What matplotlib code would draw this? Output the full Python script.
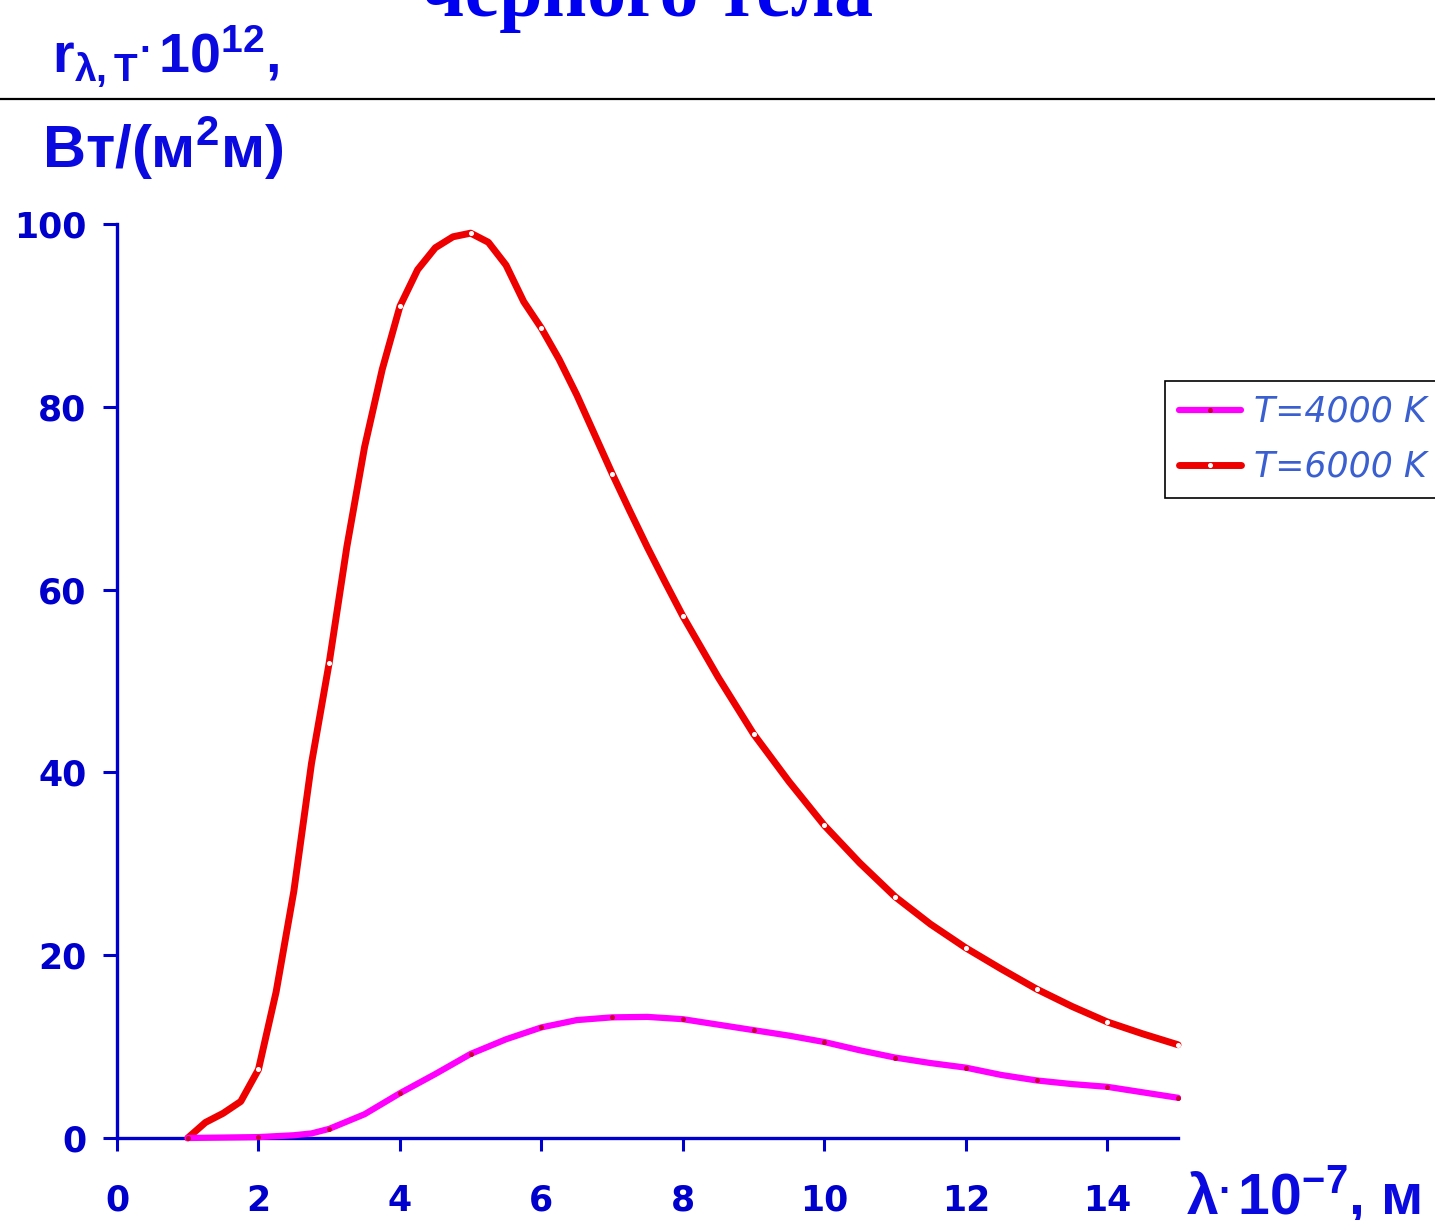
import matplotlib
matplotlib.use("Agg")
import matplotlib.pyplot as plt
from matplotlib import font_manager as fm
from matplotlib.lines import Line2D

# ---------------- data ----------------
lam_6000 = [1, 1.25, 1.5, 1.75, 2, 2.25, 2.5, 2.75, 3, 3.25, 3.5, 3.75, 4, 4.25, 4.5, 4.75,
            5, 5.25, 5.5, 5.75, 6, 6.25, 6.5, 6.75, 7, 7.25, 7.5, 7.75, 8, 8.5, 9, 9.5,
            10, 10.5, 11, 11.5, 12, 12.5, 13, 13.5, 14, 14.5, 15]
r_6000 = [0, 1.7, 2.7, 4.0, 7.5, 16, 27, 41, 52, 64.7, 75.6, 84.1, 91, 95, 97.4, 98.6,
          99, 98, 95.5, 91.5, 88.6, 85.2, 81.3, 77.0, 72.7, 68.6, 64.6, 60.8, 57.1, 50.4, 44.2, 39.0,
          34.2, 30.1, 26.4, 23.4, 20.8, 18.5, 16.3, 14.4, 12.7, 11.4, 10.2]

lam_4000 = [1, 1.5, 2, 2.5, 2.75, 3, 3.5, 4, 4.5, 5, 5.5, 6, 6.5, 7, 7.5, 8, 8.5, 9, 9.5,
            10, 10.5, 11, 11.5, 12, 12.5, 13, 13.5, 14, 14.5, 15]
r_4000 = [0, 0.05, 0.1, 0.3, 0.5, 1.0, 2.6, 4.9, 7.0, 9.2, 10.8, 12.1, 12.9, 13.2, 13.25, 13.0, 12.4,
          11.8, 11.2, 10.5, 9.6, 8.8, 8.2, 7.7, 6.9, 6.3, 5.9, 5.6, 5.0, 4.4]

labels = ["T=4000 K", "T=6000 K"]
xticks = [0, 2, 4, 6, 8, 10, 12, 14]
yticks = [0, 20, 40, 60, 80, 100]
title_text = "черного тела"
ylabel_top = r"r$_{λ,T}$$^{.}$10$^{12}$,"
ylabel_bottom = r"Вт/(м$^{2}$м)"
xlabel_text = r"λ$^{.}$10$^{-7}$, м"

# ---------------- fonts ----------------
names = {f.name for f in fm.fontManager.ttflist}
narrow = "Liberation Sans Narrow" if "Liberation Sans Narrow" in names else "Liberation Sans"
plt.rcParams["mathtext.fontset"] = "custom"
plt.rcParams["mathtext.rm"] = narrow + ":bold"
plt.rcParams["mathtext.it"] = narrow + ":bold"
plt.rcParams["mathtext.bf"] = narrow + ":bold"
plt.rcParams["mathtext.default"] = "regular"

BLUE = "#0000CC"
LBLUE = "#0A0AE0"

W, H = 1435, 1220
fig = plt.figure(figsize=(W / 100, H / 100), dpi=100)
ax = fig.add_axes([117 / W, 1 - 1138 / H, (1178 - 117) / W, (1138 - 224) / H])

def ix_int(xs):
    return [i for i, v in enumerate(xs) if float(v).is_integer()]

l6, = ax.plot(lam_6000, r_6000, color="#EE0000", lw=5.0, solid_capstyle="round",
              solid_joinstyle="round",
              marker="o", markersize=2.6, markerfacecolor="white", markeredgecolor="white",
              markevery=ix_int(lam_6000), clip_on=False, zorder=5, label=labels[1])
l4, = ax.plot(lam_4000, r_4000, color="#FF00FF", lw=4.5, solid_capstyle="round",
              solid_joinstyle="round",
              marker="o", markersize=2.6, markerfacecolor="#CC0033", markeredgecolor="#CC0033",
              markevery=ix_int(lam_4000), clip_on=False, zorder=6, label=labels[0])

ax.set_xlim(0, 15)
ax.set_ylim(0, 100)
ax.set_xticks(xticks)
ax.set_yticks(yticks)
for s in ["top", "right"]:
    ax.spines[s].set_visible(False)
for s in ["left", "bottom"]:
    ax.spines[s].set_color(BLUE)
    ax.spines[s].set_linewidth(2.4)
ax.tick_params(axis="y", direction="out", length=10, width=2.2, color=BLUE,
               labelcolor=BLUE, labelsize=25, pad=12)
ax.tick_params(axis="x", direction="out", length=9, width=2.2, color=BLUE,
               labelcolor=BLUE, labelsize=25, pad=24)
for lab in ax.get_xticklabels() + ax.get_yticklabels():
    lab.set_fontweight("heavy")
    lab.set_fontfamily("DejaVu Sans")

leg = fig.legend(handles=[l4, l6], labels=labels, loc="upper left",
                 bbox_to_anchor=(1165 / W, 1 - 381 / H), bbox_transform=fig.transFigure,
                 frameon=True, fancybox=False, framealpha=1, edgecolor="black",
                 prop={"family": "DejaVu Sans", "style": "oblique", "size": 25},
                 handlelength=1.8, handletextpad=0.35, borderpad=0.4, labelspacing=0.6,
                 borderaxespad=0, numpoints=1)
leg.get_frame().set_linewidth(1.2)
for t in leg.get_texts():
    t.set_color("#3A5FD0")

# black separator line under the top label
fig.add_artist(Line2D([0, 1], [1 - 99 / H, 1 - 99 / H], transform=fig.transFigure,
                      color="black", lw=1.6))

# texts
fig.text(647 / W, 1 - 16 / H, title_text, ha="center", va="baseline",
         fontsize=56, fontweight="bold", family="Liberation Serif", color="#0000F0")
fig.text(52 / W, 1 - 72 / H, ylabel_top, ha="left", va="baseline",
         fontsize=40, fontweight="bold", family=narrow, color=LBLUE)
fig.text(42 / W, 1 - 168 / H, ylabel_bottom, ha="left", va="baseline",
         fontsize=43, fontweight="bold", family=narrow, color=LBLUE)
fig.text(1186 / W, 1 - 1214 / H, xlabel_text, ha="left", va="baseline",
         fontsize=41, fontweight="bold", family=narrow, color=LBLUE)

fig.savefig("out.png", dpi=100)
